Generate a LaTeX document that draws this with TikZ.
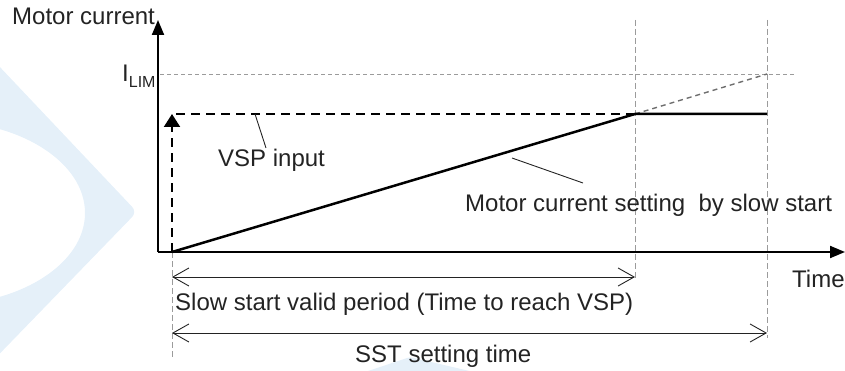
\documentclass[tikz,border=0pt]{standalone}
\usepackage{fontspec}
\setmainfont{Liberation Sans}
\usetikzlibrary{arrows.meta}
\definecolor{wmark}{RGB}{229,240,249}
\definecolor{guidegray}{RGB}{155,155,155}
\definecolor{extgray}{RGB}{110,110,110}
\definecolor{ink}{RGB}{35,35,35}

\begin{document}
\begin{tikzpicture}[x=1pt,y=-1pt,
  lbl/.style={inner sep=0pt, anchor=base west, text=ink,
              font=\fontsize{24}{28}\selectfont},
  axisline/.style={line width=2pt, draw=black,
                   -{Triangle[length=15pt,width=12pt]}},
  guideline/.style={draw=guidegray, line width=0.9pt, dash pattern=on 6pt off 3pt},
  limline/.style={draw=guidegray, line width=0.9pt, dash pattern=on 4pt off 3pt},
  vspline/.style={draw=black, line width=2pt, dash pattern=on 9pt off 6pt},
  ramp/.style={draw=black, line width=2.5pt, line join=round},
  extline/.style={draw=extgray, line width=1.4pt, dash pattern=on 5pt off 4pt},
  leader/.style={draw=ink, line width=0.9pt},
  span/.style={draw=ink, line width=0.9pt,
               {Straight Barb[length=16pt,width=18pt]}-{Straight Barb[length=16pt,width=18pt]}}]

\useasboundingbox (0,0) rectangle (845,371);

% faint background emblem
\begin{scope}
  \clip (0,0) rectangle (845,371);
  \fill[wmark, even odd rule]
    [rounded corners=7pt] (-20,46) -- (137,212) -- (-20,374) -- cycle
    [sharp corners] (-60,213) ellipse [x radius=145, y radius=92];
  \fill[wmark, rounded corners=3pt] (362,373) -- (410,357) -- (478,373) -- cycle;
\end{scope}

% reference points
\coordinate (O) at (158,252);
\coordinate (ytop) at (158,20);
\coordinate (xend) at (845,252);
\coordinate (S) at (172,252);
\coordinate (V) at (172,114);
\coordinate (Vh) at (176,114);
\coordinate (R) at (635,114);
\coordinate (E) at (767,114);
\coordinate (L) at (767,74);
\coordinate (limA) at (160,74);
\coordinate (limB) at (795,74);
\coordinate (t1top) at (635,20);
\coordinate (t1bot) at (635,279);
\coordinate (t2top) at (767,20);
\coordinate (t2bot) at (767,338);
\coordinate (t0bot) at (172,358);
\coordinate (s1a) at (172,277);
\coordinate (s1b) at (635,277);
\coordinate (s2a) at (172,333);
\coordinate (s2b) at (767,333);
\coordinate (vspA) at (255,114);
\coordinate (vspB) at (266,148);
\coordinate (mcA) at (512,158);
\coordinate (mcB) at (583,183);

% guide lines
\draw[limline] (limA) -- (limB);
\draw[guideline] (t1top) -- (t1bot);
\draw[guideline] (t2top) -- (t2bot);
\draw[guideline] (S) -- (t0bot);

% axes
\draw[axisline] (O) -- (ytop);
\draw[axisline] (O) -- (xend);

% VSP input step
\draw[vspline, -{Triangle[length=13pt,width=16pt]}] (S) -- (V);
\draw[vspline] (Vh) -- (R);

% extension towards the limit
\draw[extline] (R) -- (L);

% slow start current
\draw[ramp] (S) -- (R) -- (E);

% leaders
\draw[leader] (vspA) -- (vspB);
\draw[leader] (mcA) -- (mcB);

% time spans
\draw[span] (s1a) -- (s1b);
\draw[span] (s2a) -- (s2b);

% labels
\node[lbl] (ylab) at (12,25) {Motor current};
\node[lbl] (ilim) at (122,82) {I{\fontsize{16}{16}\selectfont\raisebox{-6pt}{LIM}}};
\node[lbl] (vsplab) at (218,167) {VSP input};
\node[lbl] (mclab) at (465,212) {Motor current setting~ by slow start};
\node[lbl] (xlab) at (792,287) {Time};
\node[lbl] (s1lab) at (175,310) {Slow start valid period (Time to reach VSP)};
\node[lbl] (s2lab) at (355,362) {SST setting time};
\end{tikzpicture}
\end{document}
